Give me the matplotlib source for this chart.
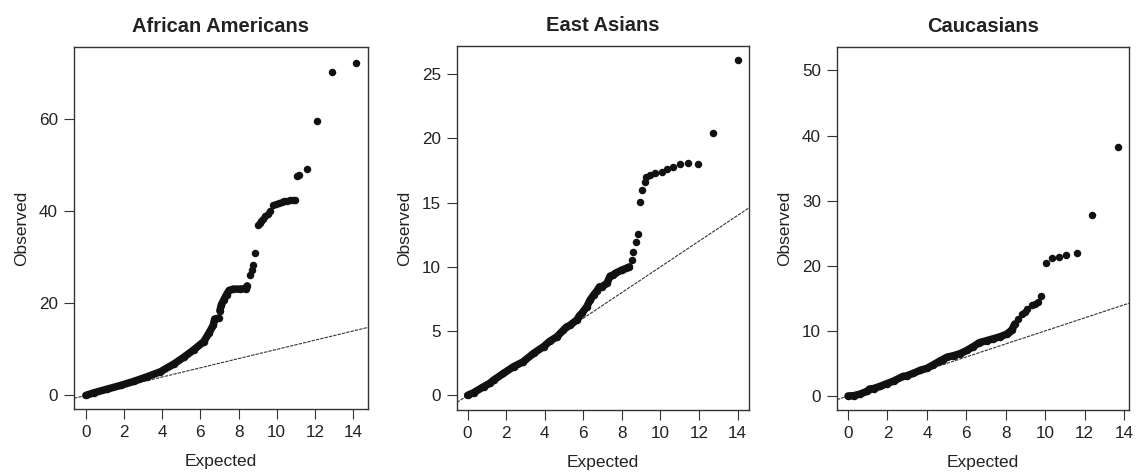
import numpy as np
import matplotlib
matplotlib.use('Agg')
import matplotlib.pyplot as plt

plt.rcParams['font.family'] = ['Liberation Sans', 'DejaVu Sans']

# --- data (expected vs observed -log10 p) ---
# dense part of each curve (drawn as a continuous band of points)
aa_band1_exp = [0, 0.42, 1.12, 1.82, 2.51, 3.21, 3.91, 4.6, 5.13, 5.65, 6.18, 6.44, 6.67, 6.75, 6.95]
aa_band1_obs = [0, 0.57, 1.37, 2.17, 3.05, 4.06, 5.15, 6.8, 8.3, 9.9, 11.7, 13.5, 15.2, 16.6, 16.8]
aa_band2_exp = [7.02, 7.1, 7.23, 7.37, 7.5, 7.72, 8.06, 8.38, 8.45]
aa_band2_obs = [18.4, 19.7, 20.8, 21.9, 22.8, 23.1, 23.1, 23.2, 23.8]
aa_tail_exp = [8.6, 8.68, 8.77, 8.86, 9.04, 9.12, 9.2, 9.3, 9.39, 9.52, 9.65, 9.82, 9.95,
               10.1, 10.25, 10.4, 10.55, 10.7, 10.85, 10.96, 11.05, 11.15, 11.57, 12.1, 12.88, 14.16]
aa_tail_obs = [26.2, 27.3, 28.4, 30.9, 37.1, 37.5, 37.9, 38.3, 38.9, 39.4, 40.0, 41.3, 41.5,
               41.8, 42.0, 42.2, 42.3, 42.4, 42.5, 42.5, 47.7, 47.9, 49.3, 59.6, 70.3, 72.2]

ea_band_exp = [0, 0.31, 0.83, 1.14, 1.35, 1.86, 2.38, 2.87, 3.42, 3.94, 4.25, 4.63, 4.97, 5.11,
               5.32, 5.66, 5.8, 5.92, 6.18, 6.35, 6.53, 6.7, 6.84, 6.96, 7.22, 7.39, 7.53, 7.65,
               8.0, 8.22, 8.39]
ea_band_obs = [0, 0.21, 0.67, 0.93, 1.19, 1.71, 2.23, 2.6, 3.27, 3.79, 4.2, 4.56, 5.08, 5.3,
               5.47, 5.86, 6.2, 6.38, 6.9, 7.42, 7.8, 8.12, 8.45, 8.45, 8.71, 9.28, 9.35, 9.49,
               9.75, 9.88, 10.0]
ea_tail_exp = [8.51, 8.6, 8.74, 8.82, 8.94, 9.03, 9.2, 9.25, 9.46, 9.72, 10.07, 10.33, 10.67,
               11.01, 11.45, 11.93, 12.71, 14.03]
ea_tail_obs = [10.53, 11.18, 11.95, 12.55, 15.07, 15.98, 16.6, 17.0, 17.14, 17.28, 17.4, 17.6,
               17.8, 18.0, 18.05, 18.0, 20.4, 26.1]

ca_band_exp = [0, 0.29, 0.62, 0.96, 1.09, 1.3, 1.64, 1.97, 2.31, 2.78, 2.98, 3.32, 3.66, 4.0,
               4.33, 4.67, 4.8, 5.01, 5.35, 5.68, 6.02, 6.36, 6.66, 7.03, 7.37, 7.71, 8.04, 8.17,
               8.3, 8.46]
ca_band_obs = [0, 0.05, 0.3, 0.72, 1.07, 1.15, 1.5, 1.9, 2.3, 3.0, 3.1, 3.5, 3.95, 4.25,
               4.8, 5.4, 5.6, 5.95, 6.2, 6.5, 7.0, 7.6, 8.2, 8.5, 8.8, 9.1, 9.5, 9.8,
               10.1, 11.07]
ca_tail_exp = [8.6, 8.8, 8.95, 9.1, 9.31, 9.5, 9.65, 9.81, 10.03, 10.32, 10.69, 11.08, 11.61,
               12.39, 13.69]
ca_tail_obs = [11.8, 12.6, 12.9, 13.3, 13.9, 14.1, 14.5, 15.3, 20.4, 21.2, 21.4, 21.7, 22.0,
               27.8, 38.3]

titles = ['African Americans', 'East Asians', 'Caucasians']
x_ticks = [0, 2, 4, 6, 8, 10, 12, 14]
y_ticks = [[0, 20, 40, 60], [0, 5, 10, 15, 20, 25], [0, 10, 20, 30, 40, 50]]

W, H = 1139, 473
# axes boxes in pixels: left, right, top, bottom
boxes = [(74, 368, 47, 409), (457, 749, 46, 410), (837, 1129, 47, 410)]
xlims = [(-0.62, 14.78), (-0.55, 14.59), (-0.56, 14.25)]
ylims = [(-2.95, 75.7), (-1.14, 27.18), (-2.15, 53.6)]

panels = [
    ([(aa_band1_exp, aa_band1_obs), (aa_band2_exp, aa_band2_obs)], (aa_tail_exp, aa_tail_obs)),
    ([(ea_band_exp, ea_band_obs)], (ea_tail_exp, ea_tail_obs)),
    ([(ca_band_exp, ca_band_obs)], (ca_tail_exp, ca_tail_obs)),
]

dot = '#111111'
ms = 5.4

fig = plt.figure(figsize=(W / 100, H / 100), dpi=100)

for i, (bands, tail) in enumerate(panels):
    l, r, t, b = boxes[i]
    ax = fig.add_axes([l / W, 1 - b / H, (r - l) / W, (b - t) / H])

    # y = x reference line
    ax.axline((0, 0), slope=1, color='#333333', lw=0.8, dashes=(3, 1), zorder=1)

    for bx, by in bands:
        ax.plot(bx, by, '-', color=dot, lw=ms, solid_capstyle='round',
                solid_joinstyle='round', zorder=2)
        ax.plot(bx, by, 'o', color=dot, ms=ms, mew=0, zorder=3)
    ax.plot(tail[0], tail[1], 'o', color=dot, ms=ms, mew=0, zorder=3)

    ax.set_xlim(*xlims[i])
    ax.set_ylim(*ylims[i])
    ax.set_xticks(x_ticks)
    ax.set_yticks(y_ticks[i])
    ax.tick_params(direction='out', length=7, width=0.8, color='#333333',
                   labelsize=12.3, labelcolor='#222222', pad=4.5)
    for s in ax.spines.values():
        s.set_linewidth(1.0)
        s.set_color('#333333')
    ax.set_title(titles[i], fontsize=14.5, fontweight='bold', color='#222222', pad=11)
    ax.set_xlabel('Expected', fontsize=12.5, color='#222222', labelpad=10)
    ax.set_ylabel('Observed', fontsize=12.5, color='#222222', labelpad=7)

fig.savefig('out.png', dpi=100)
